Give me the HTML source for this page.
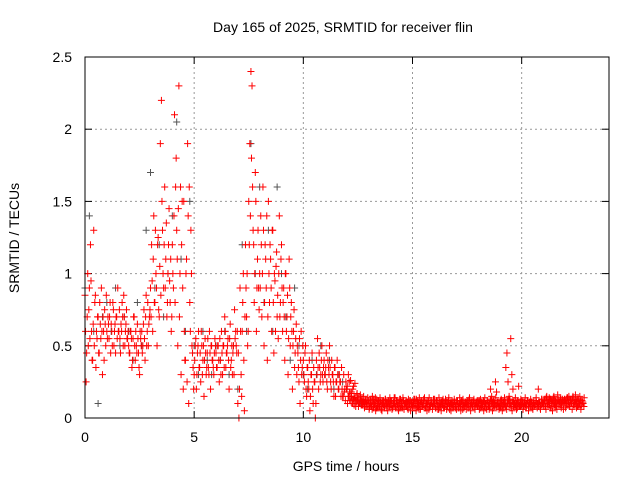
<!DOCTYPE html>
<html><head><meta charset="utf-8"><style>
body{margin:0;background:#fff;width:640px;height:480px;overflow:hidden}
svg{font-family:"Liberation Sans",sans-serif}
</style></head><body>
<svg id="chart" width="640" height="480">
<text x="343" y="32" font-size="14" text-anchor="middle">Day 165 of 2025, SRMTID for receiver flin</text>
<text x="346" y="471" font-size="14" text-anchor="middle">GPS time / hours</text>
<text transform="translate(19,238) rotate(-90)" font-size="14" text-anchor="middle">SRMTID / TECUs</text>
<g id="grid"></g><g id="ticks"></g><g id="gray"></g><g id="red"></g>
<rect x="85" y="57" width="524" height="361" fill="none" stroke="#000" stroke-width="1"/>
</svg>
<script>
const xTicks=[0,5,10,15,20];
const yTicks=[0,0.5,1,1.5,2,2.5];
const yTickLabels=["0","0.5","1","1.5","2","2.5"];
const redStart=0, redStep=0.05;
const redValues=[
0.85,0.25,0.7,0.5,0.9,1.2,0.6,0.4,1.3,0.8,0.35,0.55,0.7,0.45,0.65,0.9,0.3,0.6,0.75,0.5,
0.6,0.7,0.55,0.8,0.65,0.5,0.75,0.6,0.45,0.7,0.9,0.6,0.55,0.65,0.8,0.5,0.7,0.6,0.75,0.55,
0.5,0.45,0.6,0.35,0.55,0.7,0.4,0.5,0.65,0.45,0.3,0.55,0.6,0.5,0.75,0.4,0.85,0.6,0.5,0.7,
0.9,1.2,0.6,1.4,0.8,1.0,0.5,1.25,0.7,1.9,2.2,1.3,0.9,1.6,1.1,0.7,1.0,1.45,0.8,0.6,
1.2,0.9,2.1,1.6,1.3,0.5,2.3,1.0,0.3,1.5,0.2,0.6,0.4,1.1,1.9,0.1,0.8,1.3,0.5,0.35,
0.3,0.5,0.2,0.45,0.6,0.35,0.25,0.5,0.4,0.15,0.55,0.3,0.45,0.35,0.6,0.2,0.5,0.4,0.3,0.55,
0.45,0.35,0.5,0.25,0.4,0.6,0.3,0.5,0.7,0.35,0.45,0.55,0.2,0.65,0.4,0.3,0.5,0.75,0.6,0.45,
0.1,0.0,0.9,0.3,0.6,1.0,0.05,1.2,0.7,0.5,1.5,1.9,2.4,2.3,1.3,0.8,1.7,0.6,1.1,0.9,
1.0,1.4,0.7,1.6,0.5,1.2,0.9,0.4,1.5,0.8,1.1,0.6,1.3,0.45,0.95,1.05,0.7,0.55,1.4,0.8,
1.2,0.6,0.9,0.4,1.0,0.7,0.3,1.1,0.5,0.8,0.2,0.6,0.35,0.55,0.3,0.45,0.25,0.1,0.6,0.35,
0.4,0.25,0.5,0.15,0.35,0.2,0.05,0.3,0.45,0.1,0.25,0.0,0.4,0.55,0.2,0.35,0.3,0.5,0.25,0.4,
0.3,0.45,0.2,0.35,0.5,0.25,0.4,0.3,0.15,0.35,0.25,0.4,0.2,0.3,0.25,0.35,0.15,0.3,0.2,0.25,
0.2,0.15,0.25,0.12,0.18,0.1,0.22,0.14,0.08,0.16,0.12,0.1,0.15,0.09,0.13,0.11,0.07,0.12,0.1,0.14,
0.1,0.08,0.13,0.06,0.11,0.09,0.14,0.07,0.1,0.12,0.08,0.11,0.05,0.1,0.09,0.13,0.07,0.1,0.12,0.08,
0.09,0.12,0.07,0.1,0.14,0.08,0.11,0.06,0.1,0.13,0.09,0.07,0.12,0.1,0.08,0.11,0.06,0.09,0.12,0.1,
0.08,0.1,0.13,0.07,0.09,0.11,0.06,0.1,0.12,0.08,0.09,0.14,0.07,0.1,0.11,0.06,0.09,0.12,0.08,0.1,
0.1,0.07,0.12,0.09,0.06,0.11,0.08,0.1,0.13,0.07,0.09,0.11,0.08,0.12,0.06,0.1,0.09,0.07,0.11,0.08,
0.09,0.11,0.07,0.1,0.08,0.12,0.06,0.09,0.1,0.08,0.11,0.07,0.13,0.09,0.1,0.08,0.12,0.07,0.1,0.09,
0.08,0.1,0.07,0.11,0.09,0.12,0.08,0.1,0.06,0.11,0.09,0.08,0.12,0.1,0.07,0.11,0.25,0.18,0.1,0.08,
0.1,0.08,0.12,0.07,0.09,0.11,0.08,0.1,0.13,0.09,0.55,0.3,0.2,0.12,0.08,0.1,0.07,0.11,0.09,0.08,
0.09,0.11,0.08,0.1,0.07,0.12,0.09,0.1,0.08,0.11,0.07,0.1,0.09,0.12,0.08,0.1,0.11,0.07,0.09,0.1,
0.1,0.12,0.08,0.15,0.09,0.11,0.13,0.07,0.1,0.14,0.09,0.12,0.08,0.16,0.1,0.11,0.13,0.09,0.12,0.1,
0.12,0.09,0.14,0.11,0.08,0.13,0.1,0.15,0.09,0.12,0.11,0.08,0.13,0.1,0.12,0.09,0.11,0.08
];
const red2Start=0.025, red2Step=0.05;
const red2Values=[
0.6,0.45,1.0,0.75,0.55,0.95,0.4,0.65,0.5,0.85,0.6,0.7,0.45,0.8,0.55,0.6,0.7,0.4,0.65,0.85,
0.55,0.65,0.7,0.45,0.6,0.8,0.5,0.65,0.7,0.55,0.6,0.75,0.45,0.6,0.7,0.85,0.5,0.65,0.55,0.6,
0.45,0.6,0.55,0.4,0.7,0.5,0.6,0.45,0.55,0.35,0.6,0.5,0.45,0.65,0.55,0.7,0.5,0.8,0.65,0.75,
0.7,0.95,1.1,0.8,1.3,0.9,1.2,0.75,1.05,0.85,1.5,1.0,1.2,0.9,1.35,0.8,1.2,0.95,1.1,0.7,
1.0,1.4,0.8,1.8,1.1,1.45,0.7,1.6,1.2,0.9,1.5,0.4,1.0,0.25,1.4,1.6,0.6,1.0,0.45,0.2,
0.4,0.55,0.3,0.5,0.35,0.45,0.6,0.3,0.5,0.4,0.45,0.35,0.55,0.3,0.45,0.5,0.4,0.35,0.45,0.5,
0.35,0.5,0.4,0.55,0.3,0.45,0.5,0.35,0.6,0.45,0.5,0.4,0.55,0.35,0.5,0.45,0.3,0.55,0.5,0.6,
0.45,0.2,0.6,0.15,0.8,0.4,0.7,0.9,1.0,0.6,1.2,1.4,1.8,1.6,1.2,1.0,1.5,0.9,1.3,0.75,
0.9,1.2,1.0,1.3,0.8,1.1,1.4,0.7,1.0,1.2,0.9,1.3,0.8,1.0,0.6,1.15,0.85,1.0,0.7,1.1,
0.9,0.8,0.7,1.0,0.6,0.85,0.55,0.9,0.7,0.6,0.5,0.75,0.45,0.65,0.5,0.35,0.55,0.4,0.3,0.5,
0.3,0.45,0.2,0.35,0.25,0.4,0.15,0.3,0.2,0.35,0.25,0.1,0.3,0.35,0.45,0.25,0.4,0.3,0.35,0.3,
0.35,0.25,0.4,0.3,0.35,0.2,0.3,0.25,0.35,0.15,0.25,0.3,0.2,0.25,0.15,0.2,
0.15,0.18,0.12,0.2,0.1,0.15,0.12,0.17,0.1,0.13,0.09,0.14,0.11,0.12,0.08,0.1,0.13,0.09,0.11,0.1,
0.08,0.11,0.09,0.12,0.07,0.1,0.08,0.11,0.13,0.09,0.1,0.07,0.12,0.08,0.11,0.09,0.1,0.12,0.08,0.1,
0.11,0.08,0.1,0.12,0.09,0.07,0.11,0.1,0.08,0.12,0.09,0.1,0.07,0.11,0.08,0.12,0.09,0.1,0.08,0.11,
0.1,0.12,0.08,0.09,0.11,0.07,0.1,0.13,0.08,0.1,0.09,0.11,0.08,0.1,0.12,0.07,0.1,0.09,0.11,0.08,
0.09,0.1,0.08,0.11,0.1,0.07,0.12,0.09,0.08,0.1,0.11,0.09,0.07,0.1,0.12,0.08,0.1,0.09,0.11,0.1,
0.1,0.08,0.11,0.09,0.12,0.1,0.08,0.1,0.11,0.09,0.1,0.08,0.11,0.1,0.09,0.12,0.08,0.1,0.09,0.11,
0.1,0.09,0.11,0.08,0.1,0.12,0.09,0.1,0.08,0.11,0.1,0.09,0.12,0.08,0.1,0.2,0.15,0.11,0.09,0.1,
0.09,0.11,0.1,0.08,0.12,0.1,0.09,0.11,0.1,0.35,0.45,0.25,0.15,0.1,0.09,0.11,0.08,0.1,0.09,0.11,
0.1,0.08,0.11,0.09,0.1,0.08,0.11,0.09,0.1,0.12,0.08,0.1,0.11,0.09,0.1,0.08,0.09,0.11,0.1,0.08,
0.11,0.09,0.13,0.1,0.12,0.08,0.14,0.1,0.11,0.09,0.13,0.1,0.12,0.15,0.09,0.11,0.1,0.13,0.11,0.09,
0.1,0.13,0.09,0.12,0.1,0.14,0.11,0.09,0.12,0.1,0.13,0.09,0.11,0.1,0.12,0.08,0.1,0.09
];
const red3Start=12.0125, red3Step=0.05;
const red3Values=[
0.22,0.3,0.18,0.26,0.15,0.2,0.13,0.24,0.12,0.17,0.14,0.1,0.16,0.12,0.09,0.15,0.11,0.13,0.08,0.12,
0.06,0.12,0.09,0.15,0.07,0.11,0.05,0.13,0.08,0.1,0.14,0.06,0.12,0.09,0.07,0.13,0.1,0.05,0.11,0.14,
0.12,0.06,0.1,0.14,0.07,0.12,0.09,0.05,0.13,0.08,0.11,0.14,0.06,0.1,0.12,0.07,0.13,0.09,0.05,0.11,
0.07,0.13,0.1,0.05,0.12,0.08,0.14,0.06,0.11,0.09,0.13,0.07,0.1,0.05,0.12,0.14,0.08,0.11,0.06,0.13,
0.13,0.07,0.11,0.06,0.14,0.09,0.05,0.12,0.1,0.07,0.13,0.06,0.11,0.14,0.08,0.05,0.12,0.09,0.13,0.07,
0.06,0.12,0.08,0.14,0.05,0.11,0.13,0.07,0.1,0.06,0.12,0.09,0.14,0.05,0.11,0.08,0.13,0.06,0.1,0.12,
0.12,0.06,0.13,0.08,0.1,0.05,0.14,0.07,0.12,0.09,0.06,0.13,0.1,0.05,0.12,0.08,0.14,0.07,0.11,0.06,
0.07,0.13,0.05,0.11,0.14,0.08,0.06,0.12,0.1,0.13,0.07,0.05,0.11,0.09,0.14,0.06,0.12,0.22,0.08,0.13,
0.12,0.06,0.1,0.14,0.07,0.12,0.05,0.11,0.13,0.08,0.06,0.12,0.09,0.14,0.07,0.2,0.11,0.06,0.13,0.1,
0.08,0.13,0.06,0.11,0.09,0.14,0.07,0.12,0.05,0.1,0.13,0.08,0.06,0.12,0.09,0.14,0.07,0.11,0.06,0.13,
0.07,0.13,0.09,0.15,0.08,0.12,0.06,0.14,0.1,0.16,0.07,0.13,0.09,0.15,0.06,0.12,0.1,0.14
];
const grayStart=0, grayStep=0.2;
const grayValues=[
0.9,1.4,0.6,0.1,0.7, 0.8,0.6,0.9,0.5,0.7, 0.6,0.4,0.8,0.5,1.3, 1.7,0.9,1.2,0.7,1.0,
1.4,2.05,1.1,0.6,1.5, 0.5,0.3,0.6,0.4,0.3, 0.5,0.4,0.6,0.3,0.5, 0.2,1.2,0.6,1.9,1.0,
1.6,0.8,1.3,0.6,1.6, 1.0,0.7,0.4,0.9,0.5, 0.3,0.2,0.4,0.3,0.5, 0.3,0.4,0.2,0.3,0.25,
0.2,0.15,0.12,0.1,0.08
];
const NS='http://www.w3.org/2000/svg';
function xScale(h){return 85+h*(524/24);}
function yScale(v){return 418-v*(361/2.5);}
const grid=document.getElementById('grid'),ticks=document.getElementById('ticks');
function mk(tag,attrs,parent){const e=document.createElementNS(NS,tag);for(const k in attrs)e.setAttribute(k,attrs[k]);parent.appendChild(e);return e;}
xTicks.forEach(t=>{const x=xScale(t);
 if(t>0){const g=mk('line',{x1:x,x2:x,y1:57,y2:418,stroke:'#999','stroke-dasharray':'2,3'},grid);
 
 }
 mk('line',{x1:x,x2:x,y1:418,y2:411,stroke:'#000'},ticks);mk('line',{x1:x,x2:x,y1:57,y2:64,stroke:'#000'},ticks);
 const l=mk('text',{x:x,y:442,'font-size':14,'text-anchor':'middle'},ticks);l.textContent=t;
 
 });
yTicks.forEach((t,i)=>{const y=yScale(t);
 if(t>0&&t<2.5){const g=mk('line',{x1:85,x2:609,y1:y,y2:y,stroke:'#999','stroke-dasharray':'2,3'},grid);
 
 }
 mk('line',{x1:85,x2:92,y1:y,y2:y,stroke:'#000'},ticks);mk('line',{x1:602,x2:609,y1:y,y2:y,stroke:'#000'},ticks);
 const l=mk('text',{x:72,y:y+5,'font-size':14,'text-anchor':'end'},ticks);l.textContent=yTickLabels[i];
 
 });
function plus(vals,start,step,color,gid,name){let d='';
 vals.forEach((v,i)=>{const x=xScale(start+i*step),y=yScale(v);d+=`M${x-3.5},${y}h7M${x},${y-3.5}v7`;});
 const p=mk('path',{d:d,stroke:color,'stroke-width':1,fill:'none'},document.getElementById(gid));
 
 }
plus(grayValues,grayStart,grayStep,'#555','gray','gray-series-points');
plus(redValues,redStart,redStep,'#ff0000','red','red-series-points');
plus(red2Values,red2Start,red2Step,'#ff0000','red','red-series-points-2');
plus(red3Values,red3Start,red3Step,'#ff0000','red','red-series-points-3');
</script>
</body></html>
